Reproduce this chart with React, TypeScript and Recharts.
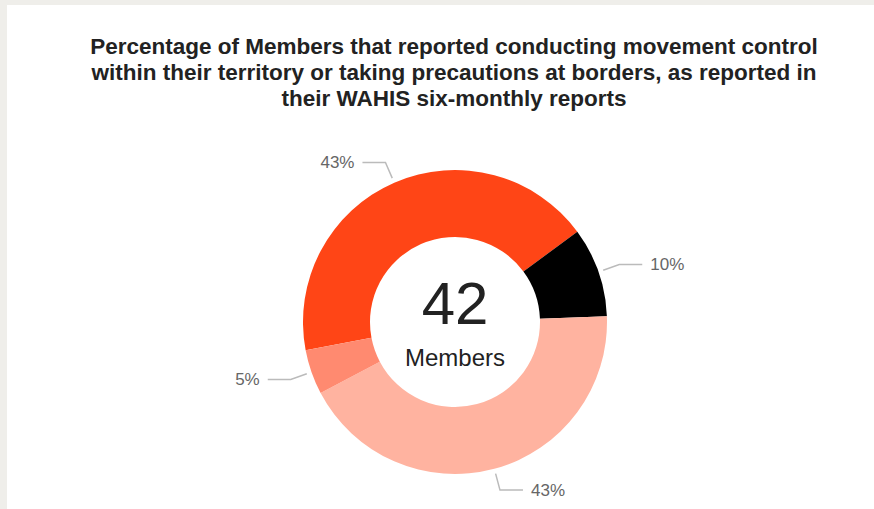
import React from "react";
import { PieChart, Pie, Cell } from "recharts";

const categories = [
  "Movement control within territory",
  "Precautions at borders",
  "Both",
  "Other",
];
const memberCounts = [18, 4, 18, 2];
const sliceColors = ["#FF4516", "#000000", "#FFB3A0", "#FF8A70"];

const titleLines = [
  "Percentage of Members that reported conducting movement control",
  "within their territory or taking precautions at borders, as reported in",
  "their WAHIS six-monthly reports",
];

const data = categories.map((name, i) => ({ name, value: memberCounts[i] }));
const total = memberCounts.reduce((a, b) => a + b, 0);

const RADIAN = Math.PI / 180;
const FONT = "Liberation Sans, Arial, sans-serif";

// elbow leader line + percentage, like the original
// eslint-disable-next-line @typescript-eslint/no-explicit-any
function renderLabel(props: any) {
  const { cx, cy, midAngle, outerRadius, percent } = props;
  const cos = Math.cos(-midAngle * RADIAN);
  const sin = Math.sin(-midAngle * RADIAN);
  const sx = cx + (outerRadius + 5) * cos;
  const sy = cy + (outerRadius + 5) * sin;
  const mx = cx + (outerRadius + 22) * cos;
  const my = cy + (outerRadius + 22) * sin;
  const dir = cos >= 0 ? 1 : -1;
  const ex = mx + dir * 23;
  return (
    <g>
      <path
        d={`M${sx},${sy}L${mx},${my}L${ex},${my}`}
        stroke="#bbbbbb"
        strokeWidth={1.5}
        fill="none"
      />
      <text
        x={ex + dir * 8}
        y={my}
        textAnchor={dir > 0 ? "start" : "end"}
        dominantBaseline="central"
        fill="#666666"
        fontSize={17}
        fontFamily={FONT}
      >
        {`${Math.round(percent * 100)}%`}
      </text>
    </g>
  );
}

export default function App() {
  const cx = 448;
  const cy = 317;
  return (
    <div
      style={{
        position: "absolute",
        left: 0,
        top: 0,
        width: 874,
        height: 509,
        background: "#EFEEEA",
        overflow: "hidden",
      }}
    >
      <div
        style={{
          position: "absolute",
          left: 7,
          top: 5,
          width: 867,
          height: 504,
          background: "#ffffff",
        }}
      >
        <div
          style={{
            position: "absolute",
            left: 0,
            top: 29,
            width: 894,
            textAlign: "center",
            fontFamily: FONT,
            fontWeight: "bold",
            fontSize: 22.5,
            lineHeight: "26px",
            color: "#222222",
          }}
        >
          {titleLines.map((l) => (
            <div key={l}>{l}</div>
          ))}
        </div>
        <div style={{ position: "absolute", left: 0, top: 0 }}>
          <PieChart
            width={867}
            height={504}
            margin={{ top: 0, right: 0, bottom: 0, left: 0 }}
          >
            <Pie
              data={data}
              dataKey="value"
              nameKey="name"
              cx={cx}
              cy={cy}
              innerRadius={85}
              outerRadius={152}
              startAngle={-169.3}
              endAngle={-529.3}
              stroke="none"
              label={renderLabel}
              labelLine={false}
              isAnimationActive={false}
            >
              {data.map((d, i) => (
                <Cell key={d.name} fill={sliceColors[i]} />
              ))}
            </Pie>
            <text
              x={cx}
              y={cy - 19}
              textAnchor="middle"
              dominantBaseline="central"
              fontSize={60}
              fill="#222222"
              fontFamily={FONT}
            >
              {total}
            </text>
            <text
              x={cx}
              y={cy + 35}
              textAnchor="middle"
              dominantBaseline="central"
              fontSize={24}
              fill="#222222"
              fontFamily={FONT}
            >
              Members
            </text>
          </PieChart>
        </div>
      </div>
    </div>
  );
}
